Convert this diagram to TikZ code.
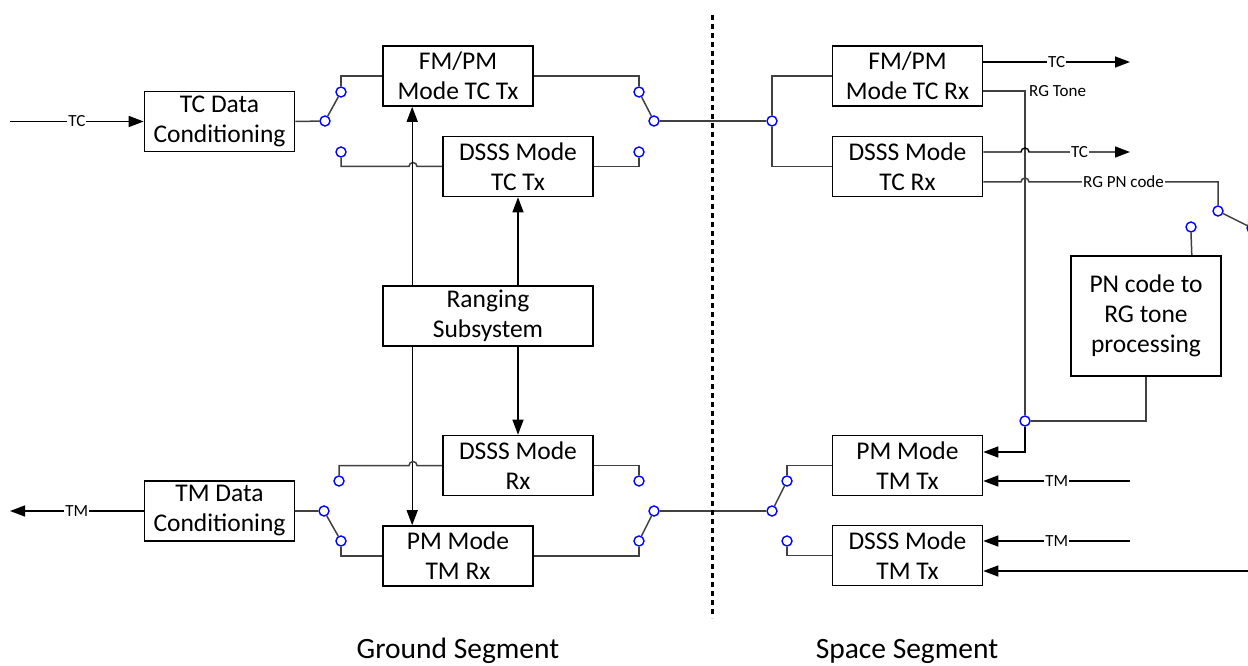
\documentclass[tikz,border=0pt]{standalone}
\usepackage{fontspec}
\setmainfont{Carlito}
\usetikzlibrary{arrows.meta,calc}
\tikzset{
  box/.style={draw, line width=1.6pt, minimum width=150pt, minimum height=60pt, inner sep=0pt, align=center, font=\fontsize{25.5}{30}\selectfont},
  sw/.style={circle, draw=blue, fill=white, line width=1.4pt, minimum size=10pt, inner sep=0pt},
  wire/.style={draw=black!75, line width=1.5pt},
  arr/.style={draw=black, line width=1.4pt, -{Triangle[length=15pt,width=11pt]}},
  lbl/.style={fill=white, inner sep=1pt, font=\fontsize{17}{19}\selectfont},
  seg/.style={font=\fontsize{29.5}{33}\selectfont, anchor=base}
}
\begin{document}
\begin{tikzpicture}[x=1pt,y=-1pt]
\useasboundingbox (0,0) rectangle (1248,666);
% ground boxes
\node[box] (tcdc) at (219.5,121.5) {TC Data\\Conditioning};
\node[box] (fmtx) at (458,76) {FM/PM\\Mode TC Tx};
\node[box] (dstx) at (518,166.5) {DSSS Mode\\TC Tx};
\node[box, minimum width=210pt] (rng) at (488,316) {Ranging\\Subsystem};
\node[box] (dsrx) at (518,465.5) {DSSS Mode\\Rx};
\node[box] (pmrx) at (458,556) {PM Mode\\TM Rx};
\node[box] (tmdc) at (219.5,511) {TM Data\\Conditioning};
% space boxes
\node[box] (fmrx) at (907.5,76) {FM/PM\\Mode TC Rx};
\node[box] (dscrx) at (907.5,166.5) {DSSS Mode\\TC Rx};
\node[box] (pmtx) at (907.5,465.5) {PM Mode\\TM Tx};
\node[box] (dstmtx) at (907.5,555.5) {DSSS Mode\\TM Tx};
\node[box, minimum height=120pt] (pnp) at (1146,316) {PN code to\\RG tone\\processing};

% contacts
\node[sw] (a1p) at (325,121) {};
\node[sw] (a1t) at (341,92) {};
\node[sw] (a1b) at (341,152) {};
\node[sw] (a2p) at (654,121) {};
\node[sw] (a2t) at (639,92) {};
\node[sw] (a2b) at (639,152) {};
\node[sw] (s1) at (772,121) {};
\node[sw] (b1p) at (324,511) {};
\node[sw] (b1t) at (339,481) {};
\node[sw] (b1b) at (341,541) {};
\node[sw] (b2p) at (654,511) {};
\node[sw] (b2t) at (639,481) {};
\node[sw] (b2b) at (639,541) {};
\node[sw] (s2p) at (772,511) {};
\node[sw] (s2t) at (787,481) {};
\node[sw] (s2b) at (787,541) {};
\node[sw] (j1) at (1025,421) {};
\node[sw] (pn1) at (1218,211) {};
\node[sw] (pn2) at (1252,228) {};
\node[sw] (pn3) at (1191,227) {};

% free ends
\coordinate (tcin) at (10,121.5);
\coordinate (tmout) at (10,511);
\coordinate (tco1) at (1130,62);
\coordinate (tco2) at (1130,152);
\coordinate (tmi1) at (1130,481);
\coordinate (tmi2) at (1130,541);
\coordinate (tmi3) at (1250,571);

% ground top wiring
\draw[arr] (tcin) -- node[lbl]{TC} (tcdc.west);
\draw[wire] (tcdc.east) -- (a1p);
\draw[wire] (a1p) -- (a1t);
\draw[wire] (a1t) |- (fmtx.west);
\path[wire] (a1b.south) -- (341,166.5) -- (409,166.5) arc (180:360:4) -- (dstx.west);
\draw[wire] (a2p) -- (a2t);
\draw[wire] (a2t) |- (fmtx.east);
\draw[wire] (a2b) |- (dstx.east);
\draw[wire] (a2p) -- (s1);

% ranging arrows
\draw[arr] ($(rng.north west)+(30,0)$) -- ($(fmtx.south west)+(30,0)$);
\draw[arr] (dstx.south |- rng.north) -- (dstx.south);
\draw[arr] (dsrx.north |- rng.south) -- (dsrx.north);
\draw[arr] ($(rng.south west)+(30,0)$) -- ($(pmrx.north west)+(30,0)$);

% ground bottom wiring
\draw[arr] (tmdc.west) -- node[lbl]{TM} (tmout);
\draw[wire] (tmdc.east) -- (b1p);
\draw[wire] (b1p) -- (b1b);
\path[wire] (b1t.north) -- (339,465.5) -- (409,465.5) arc (180:360:4) -- (dsrx.west);
\draw[wire] (b1b) |- (pmrx.west);
\draw[wire] (b2p) -- (b2b);
\draw[wire] (b2t) |- (dsrx.east);
\draw[wire] (b2b) |- (pmrx.east);
\draw[wire] (b2p) -- (s2p);

% space top wiring
\draw[wire] (s1) |- (fmrx.west);
\draw[wire] (s1) |- (dscrx.west);
\draw[arr] ($(fmrx.east)+(0,-14)$) -- node[lbl]{TC} (tco1);
\draw[wire] ($(fmrx.east)+(0,15)$) -- (1025,91) -- (j1.north);
\node[lbl, anchor=west, fill=none] (rgt) at (1028,91) {RG Tone};
\draw[arr] (j1.south) |- ($(pmtx.east)+(0,-13.5)$);
\draw[arr] ($(dscrx.east)+(0,-14.5)$) -- (1021,152) arc (180:360:4) -- node[lbl]{TC} (tco2);
\draw[wire] ($(dscrx.east)+(0,15.5)$) -- (1021,182) arc (180:360:4) -- node[lbl, pos=0.5]{RG PN code} (1218,182) -- (pn1.north);
\draw[wire] (pn1) -- (pn2);
\draw[wire] (pn3.south) -- ($(pnp.north east)+(-30,0)$);
\draw[wire] (pnp.south) |- (j1.east);

% space bottom wiring
\draw[wire] (s2p) -- (s2t);
\draw[wire] (s2t) |- (pmtx.west);
\draw[wire] (s2b) |- (dstmtx.west);
\draw[arr] (tmi1) -- node[lbl]{TM} ($(pmtx.east)+(0,15.5)$);
\draw[arr] (tmi2) -- node[lbl]{TM} ($(dstmtx.east)+(0,-14.5)$);
\draw[arr] (tmi3) -- ($(dstmtx.east)+(0,15.5)$);

% divider
\draw[line width=3pt, dash pattern=on 5pt off 4pt] (712,15) -- (712,618);
\node[seg] (gs) at (458,658) {Ground Segment};
\node[seg] (ss) at (907,658) {Space Segment};
\end{tikzpicture}
\end{document}
